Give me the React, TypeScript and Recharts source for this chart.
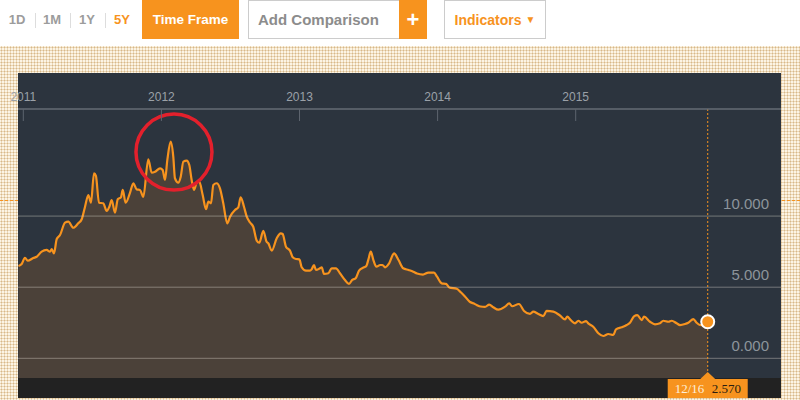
import React from 'react';
import { AreaChart, Area, XAxis, YAxis, ReferenceLine, ReferenceDot } from 'recharts';

// time in decimal years
const times = [
  2010.965, 2010.988, 2011.012, 2011.032, 2011.072, 2011.097, 2011.133, 2011.169, 2011.193, 2011.206,
  2011.222, 2011.242, 2011.266, 2011.302, 2011.326, 2011.362, 2011.398, 2011.423, 2011.447, 2011.471,
  2011.490, 2011.512, 2011.526, 2011.548, 2011.579, 2011.604, 2011.623, 2011.640, 2011.664, 2011.684,
  2011.707, 2011.720, 2011.741, 2011.773, 2011.797, 2011.821, 2011.845, 2011.869, 2011.905, 2011.930,
  2011.954, 2011.990, 2012.009, 2012.026, 2012.043, 2012.067, 2012.086, 2012.098, 2012.122, 2012.140,
  2012.159, 2012.183, 2012.202, 2012.219, 2012.236, 2012.256, 2012.274, 2012.299, 2012.323, 2012.340,
  2012.359, 2012.376, 2012.400, 2012.424, 2012.448, 2012.477, 2012.497, 2012.533, 2012.557, 2012.574,
  2012.598, 2012.618, 2012.642, 2012.665, 2012.690, 2012.709, 2012.738, 2012.762, 2012.774, 2012.799,
  2012.835, 2012.864, 2012.878, 2012.902, 2012.931, 2012.951, 2012.975, 2012.999, 2013.016, 2013.047,
  2013.076, 2013.088, 2013.105, 2013.119, 2013.148, 2013.161, 2013.177, 2013.209, 2013.233, 2013.264,
  2013.293, 2013.329, 2013.358, 2013.382, 2013.407, 2013.431, 2013.467, 2013.484, 2013.499, 2013.516,
  2013.535, 2013.557, 2013.584, 2013.601, 2013.620, 2013.649, 2013.685, 2013.717, 2013.751, 2013.790,
  2013.824, 2013.851, 2013.894, 2013.933, 2013.974, 2013.996, 2014.030, 2014.061, 2014.085, 2014.138,
  2014.166, 2014.198, 2014.235, 2014.258, 2014.283, 2014.311, 2014.343, 2014.374, 2014.403, 2014.440,
  2014.488, 2014.519, 2014.539, 2014.589, 2014.626, 2014.669, 2014.693, 2014.729, 2014.765, 2014.790,
  2014.838, 2014.886, 2014.923, 2014.939, 2014.964, 2014.995, 2015.019, 2015.043, 2015.075, 2015.091,
  2015.127, 2015.164, 2015.200, 2015.236, 2015.272, 2015.292, 2015.333, 2015.369, 2015.393, 2015.424,
  2015.446, 2015.478, 2015.495, 2015.538, 2015.574, 2015.610, 2015.634, 2015.671, 2015.695, 2015.731,
  2015.755, 2015.791, 2015.815, 2015.852, 2015.876, 2015.900, 2015.924, 2015.956,
];

const values = [
  6.49, 6.63, 7.07, 6.86, 7.05, 7.14, 7.50, 7.62, 7.50, 7.67,
  7.38, 8.39, 8.67, 9.54, 9.61, 9.18, 9.49, 9.78, 10.66, 11.48,
  10.94, 13.01, 12.82, 10.94, 10.90, 10.36, 10.66, 11.13, 10.24, 11.18,
  11.32, 11.84, 10.94, 11.65, 12.31, 11.88, 11.84, 11.36, 13.99, 13.05,
  13.12, 13.36, 13.24, 12.54, 13.95, 15.23, 14.18, 12.66, 12.35, 12.77,
  13.83, 13.90, 13.59, 12.54, 11.84, 12.35, 12.42, 11.48, 10.48, 11.01,
  10.90, 12.19, 12.31, 11.95, 10.90, 9.49, 9.96, 10.43, 10.62, 11.32,
  10.66, 9.96, 9.55, 9.25, 8.28, 8.13, 8.97, 8.20, 8.09, 7.57,
  8.44, 8.79, 8.74, 7.85, 7.57, 7.10, 6.98, 6.96, 6.40, 6.16,
  6.16, 6.26, 6.56, 6.21, 6.33, 6.40, 5.93, 5.98, 6.33, 6.33,
  5.98, 5.51, 5.23, 5.51, 5.63, 6.16, 6.40, 6.49, 6.96, 7.50,
  6.91, 6.44, 6.56, 6.56, 6.40, 6.68, 7.38, 6.91, 6.33, 6.21,
  6.09, 5.96, 5.89, 6.03, 6.02, 5.74, 5.27, 5.23, 4.98, 4.89,
  4.66, 4.35, 3.96, 3.87, 3.75, 3.64, 3.61, 3.78, 3.59, 3.42,
  3.63, 3.87, 3.66, 3.82, 3.33, 3.12, 3.28, 3.12, 2.97, 3.33,
  3.28, 3.01, 2.74, 2.93, 2.69, 2.46, 2.64, 2.50, 2.62, 2.46,
  2.22, 1.76, 1.57, 1.71, 1.64, 2.04, 2.18, 2.34, 2.50, 2.97,
  3.04, 2.69, 2.93, 2.57, 2.39, 2.46, 2.64, 2.57, 2.64, 2.46,
  2.34, 2.41, 2.50, 2.76, 2.50, 2.34, 2.31, 2.57,
];

const yearTicks = [2011, 2012, 2013, 2014, 2015];
const valueTicks = [0, 5, 10];
const lastDateLabel = '12/16';
const timeframes = ['1D', '1M', '1Y', '5Y'];
const highlight = { t: 2012.091, v: 14.5 };

const data = times.map((t, i) => ({ t, v: values[i] }));
const last = data[data.length - 1];

const ORANGE = '#f7931e';
const SANS = '"Liberation Sans", Arial, sans-serif';
const SERIF = '"Liberation Serif", "Times New Roman", serif';

const YearTick = (props: any) => {
  const { x, y, payload } = props;
  return (
    <g>
      <text x={x} y={y} textAnchor="middle" fill="#9ba1a8" fontSize={12} fontFamily={SANS}>
        {payload.value}
      </text>
      <line x1={x} x2={x} y1={y + 8} y2={y + 20} stroke="#5d646e" strokeWidth={1} />
    </g>
  );
};

// value label sits above its grid line, right aligned inside the plot
const GridLabel = (props: any) => {
  const { x, y, width } = props.viewBox;
  return (
    <text x={x + width - 12} y={y - 7} textAnchor="end" fill="#8d949b" fontSize={15} fontFamily={SANS}>
      {Number(props.value).toFixed(3)}
    </text>
  );
};

const EndTag = (props: any) => {
  const { x, y, height } = props.viewBox;
  const bottom = y + height;
  return (
    <g>
      <polygon points={`${x - 7.5},${bottom + 1} ${x + 7.5},${bottom + 1} ${x},${bottom - 6}`} fill={ORANGE} />
      <rect x={x - 40} y={bottom + 1} width={80} height={20} fill={ORANGE} />
      <text x={x - 33} y={bottom + 15} fill="#fdeed8" fontSize={13} fontFamily={SERIF}>
        {lastDateLabel}
      </text>
      <text x={x + 4} y={bottom + 15} fill="#2b1d10" fontSize={13} fontFamily={SERIF}>
        {last.v.toFixed(3)}
      </text>
    </g>
  );
};

const box = (extra: React.CSSProperties): React.CSSProperties => ({
  position: 'absolute',
  top: 0,
  height: 39,
  boxSizing: 'border-box',
  display: 'flex',
  alignItems: 'center',
  justifyContent: 'center',
  fontFamily: SANS,
  fontWeight: 'bold',
  ...extra,
});

const App: React.FC = () => {
  return (
    <div style={{ position: 'absolute', left: 0, top: 0, width: 800, height: 400, overflow: 'hidden', background: '#fff' }}>
      {/* dotted page background */}
      <div
        style={{
          position: 'absolute', left: 0, top: 46, width: 800, height: 354,
          backgroundColor: '#fcf4e4',
          backgroundImage: 'radial-gradient(circle, #d8b888 0.8px, transparent 1.2px)',
          backgroundSize: '3px 3px',
        }}
      />
      <div style={{ position: 'absolute', left: 0, top: 200, width: 800, borderTop: `1px dashed ${ORANGE}` }} />

      {/* toolbar */}
      {timeframes.map((tf, i) => (
        <div key={tf} style={box({ left: 4 + i * 35, width: 26, fontSize: 13, color: tf === '5Y' ? ORANGE : '#9c9c9c' })}>
          {tf}
        </div>
      ))}
      {[35, 70, 105].map((x) => (
        <div key={x} style={{ position: 'absolute', left: x, top: 13, width: 1, height: 15, background: '#dddddd' }} />
      ))}
      <div style={box({ left: 142, width: 97, background: ORANGE, color: '#fff', fontSize: 13.5 })}>Time Frame</div>
      <div style={box({ left: 248, width: 152, border: '1px solid #cccccc', color: '#8c8c8c', fontSize: 15, justifyContent: 'flex-start', paddingLeft: 9 })}>
        Add Comparison
      </div>
      <div style={box({ left: 399, width: 28, background: ORANGE, color: '#fff', fontSize: 22 })}>+</div>
      <div style={box({ left: 444, width: 102, border: '1px solid #cccccc', color: ORANGE, fontSize: 14 })}>
        Indicators <span style={{ fontSize: 10, marginLeft: 4 }}>▼</span>
      </div>

      {/* chart panel */}
      <div style={{ position: 'absolute', left: 18, top: 73, width: 763, height: 325, background: '#2c343e' }} />
      <div style={{ position: 'absolute', left: 18, top: 378, width: 763, height: 20, background: '#222222' }} />
      <div style={{ position: 'absolute', left: 0, top: 73 }}>
        <AreaChart width={800} height={325} data={data} margin={{ top: 0, right: 19, bottom: 20, left: 18 }}>
          <XAxis
            dataKey="t"
            type="number"
            orientation="top"
            domain={[2010.9616, 2016.4866]}
            ticks={yearTicks}
            height={36}
            allowDataOverflow
            axisLine={{ stroke: '#646b74', strokeWidth: 1.5 }}
            tickLine={false}
            tickSize={0}
            tickMargin={8}
            tick={<YearTick />}
          />
          <YAxis type="number" hide domain={[-1.385, 17.53]} allowDataOverflow />
          <Area
            dataKey="v"
            type="monotone"
            stroke={ORANGE}
            strokeWidth={2.2}
            fill="#4b4139"
            fillOpacity={1}
            baseValue="dataMin"
            dot={false}
            activeDot={false}
            isAnimationActive={false}
          />
          {valueTicks.map((v) => (
            <ReferenceLine
              key={v}
              y={v}
              stroke="rgba(225,220,210,0.4)"
              strokeWidth={1}
              label={<GridLabel value={v} />}
            />
          ))}
          <ReferenceLine x={last.t} stroke={ORANGE} strokeDasharray="2 2" label={<EndTag />} />
          <ReferenceDot x={highlight.t} y={highlight.v} r={38} fill="none" stroke="#e3202c" strokeWidth={3.5} />
          <ReferenceDot x={last.t} y={last.v} r={6.5} fill={ORANGE} stroke="#ffffff" strokeWidth={2} />
        </AreaChart>
      </div>
    </div>
  );
};

export default App;
